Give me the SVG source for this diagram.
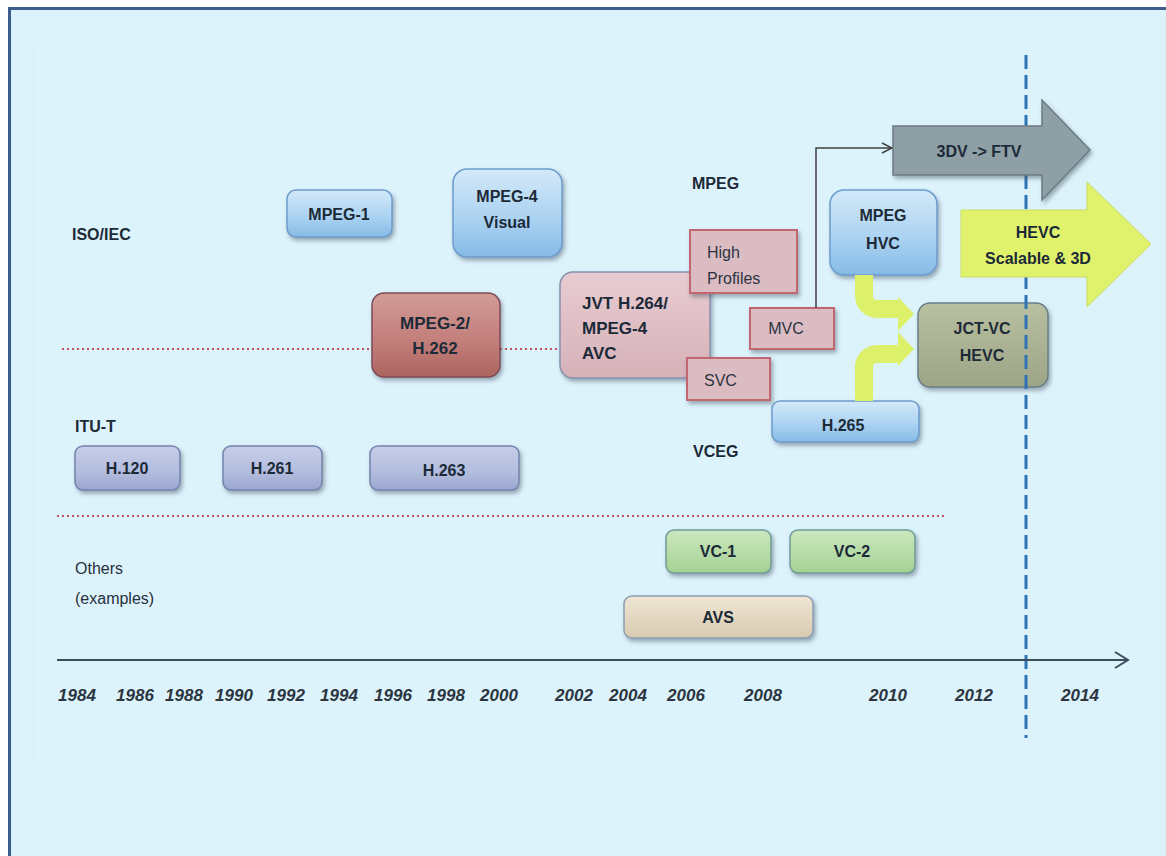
<svg xmlns="http://www.w3.org/2000/svg" width="1166" height="856" viewBox="0 0 1166 856">
  <defs>
    <linearGradient id="gBlue" x1="0" y1="0" x2="0" y2="1">
      <stop offset="0" stop-color="#d3e9f9"/>
      <stop offset="0.55" stop-color="#acd3f2"/>
      <stop offset="1" stop-color="#86bbe6"/>
    </linearGradient>
    <linearGradient id="gItu" x1="0" y1="0" x2="0" y2="1">
      <stop offset="0" stop-color="#c6cee8"/>
      <stop offset="0.6" stop-color="#b2bcdd"/>
      <stop offset="1" stop-color="#9aa6cf"/>
    </linearGradient>
    <linearGradient id="gMpeg2" x1="0" y1="0" x2="0" y2="1">
      <stop offset="0" stop-color="#d29b98"/>
      <stop offset="0.6" stop-color="#c27d79"/>
      <stop offset="1" stop-color="#ad645f"/>
    </linearGradient>
    <linearGradient id="gJvt" x1="0" y1="0" x2="0" y2="1">
      <stop offset="0" stop-color="#e8ccd1"/>
      <stop offset="1" stop-color="#d6b1b8"/>
    </linearGradient>
    <linearGradient id="gJct" x1="0" y1="0" x2="0" y2="1">
      <stop offset="0" stop-color="#b9c0a0"/>
      <stop offset="1" stop-color="#9ea587"/>
    </linearGradient>
    <linearGradient id="gVc" x1="0" y1="0" x2="0" y2="1">
      <stop offset="0" stop-color="#cbe8bf"/>
      <stop offset="1" stop-color="#a5d192"/>
    </linearGradient>
    <linearGradient id="gAvs" x1="0" y1="0" x2="0" y2="1">
      <stop offset="0" stop-color="#efe6d4"/>
      <stop offset="1" stop-color="#d8cab0"/>
    </linearGradient>
    <filter id="shadow" x="-20%" y="-20%" width="150%" height="160%">
      <feDropShadow dx="2" dy="3" stdDeviation="2" flood-color="#3a4a5a" flood-opacity="0.45"/>
    </filter>
    <marker id="openHead" viewBox="0 0 12 12" refX="11" refY="6" markerWidth="12" markerHeight="12" markerUnits="userSpaceOnUse" orient="auto">
      <path d="M1,1 L11,6 L1,11" fill="none" stroke="#3f3f3f" stroke-width="1.5"/>
    </marker>
  </defs>
  <style>
    .lbl { font-family: "Liberation Sans", Arial, sans-serif; font-weight: bold; font-size: 16px; fill: #1c2a38; }
    .reg { font-family: "Liberation Sans", Arial, sans-serif; font-size: 16px; fill: #26303c; }
    .box { font-family: "Liberation Sans", Arial, sans-serif; font-weight: bold; font-size: 16px; fill: #1c2a38; text-anchor: middle; }
    .boxL { font-family: "Liberation Sans", Arial, sans-serif; font-weight: bold; font-size: 17px; fill: #1c2a38; text-anchor: start; }
    .big { font-size: 17px; }
    .year { font-family: "Liberation Sans", Arial, sans-serif; font-weight: bold; font-style: italic; font-size: 17px; fill: #2b3540; text-anchor: middle; }
    .sub { font-family: "Liberation Sans", Arial, sans-serif; font-size: 16px; fill: #2a3440; }
    .subBox { fill: #dcbcc3; stroke: #c26670; stroke-width: 2; }
    .dots { stroke: #c0505a; stroke-width: 2; stroke-dasharray: 2 3; fill: none; }
  </style>

  <!-- page and frame -->
  <rect x="0" y="0" width="1166" height="856" fill="#ffffff"/>
  <rect x="9.5" y="8.5" width="1170" height="860" fill="#dbf2fb" stroke="#3c5d8c" stroke-width="3"/>
  <rect x="38" y="44" width="1114" height="715" fill="#ddf3fc" stroke="#e4f3f9" stroke-width="1"/>

  <!-- row labels -->
  <g id="labels">
    <text class="lbl" x="72" y="240">ISO/IEC</text>
    <text class="lbl" x="692" y="189">MPEG</text>
    <text class="lbl" x="75" y="432">ITU-T</text>
    <text class="lbl" x="693" y="457">VCEG</text>
    <text class="reg" x="75" y="574">Others</text>
    <text class="reg" x="75" y="604">(examples)</text>
  </g>

  <!-- row separators -->
  <g id="separators">
    <line class="dots" x1="62" y1="349" x2="372" y2="349"/>
    <line class="dots" x1="500" y1="349" x2="560" y2="349"/>
    <line class="dots" x1="57" y1="516" x2="945" y2="516"/>
  </g>

  <!-- ISO/IEC nodes -->
  <g id="mpeg1">
    <rect x="287" y="190" width="105" height="47" rx="9" fill="url(#gBlue)" stroke="#6c9ccb" stroke-width="1.5" filter="url(#shadow)"/>
    <text class="box" x="339" y="220">MPEG-1</text>
  </g>
  <g id="mpeg4visual">
    <rect x="453" y="169" width="109" height="88" rx="14" fill="url(#gBlue)" stroke="#6c9ccb" stroke-width="1.5" filter="url(#shadow)"/>
    <text class="box" x="507" y="202">MPEG-4</text>
    <text class="box" x="507" y="228">Visual</text>
  </g>
  <g id="mpeg2">
    <rect x="372" y="293" width="128" height="84" rx="12" fill="url(#gMpeg2)" stroke="#7f4a55" stroke-width="1.5" filter="url(#shadow)"/>
    <text class="box big" x="435" y="329">MPEG-2/</text>
    <text class="box big" x="435" y="354">H.262</text>
  </g>
  <g id="avc">
    <rect x="560" y="272" width="150" height="106" rx="13" fill="url(#gJvt)" stroke="#8890b0" stroke-width="1.5" filter="url(#shadow)"/>
    <text class="boxL" x="582" y="309">JVT H.264/</text>
    <text class="boxL" x="582" y="334">MPEG-4</text>
    <text class="boxL" x="582" y="359">AVC</text>
  </g>
  <g id="highprofiles">
    <rect class="subBox" x="690" y="230" width="107" height="63" filter="url(#shadow)"/>
    <text class="sub" x="707" y="258">High</text>
    <text class="sub" x="707" y="284">Profiles</text>
  </g>
  <g id="svc">
    <rect class="subBox" x="687" y="358" width="83" height="42" filter="url(#shadow)"/>
    <text class="sub" x="704" y="386">SVC</text>
  </g>
  <g id="mvc">
    <rect class="subBox" x="750" y="308" width="84" height="41" filter="url(#shadow)"/>
    <text class="sub" x="786" y="334" text-anchor="middle">MVC</text>
  </g>
  <g id="mpeghvc">
    <rect x="830" y="190" width="107" height="85" rx="14" fill="url(#gBlue)" stroke="#6c9ccb" stroke-width="1.5" filter="url(#shadow)"/>
    <text class="box" x="883" y="221">MPEG</text>
    <text class="box" x="883" y="249">HVC</text>
  </g>

  <!-- ITU-T nodes -->
  <g id="h120">
    <rect x="75" y="446" width="105" height="44" rx="8" fill="url(#gItu)" stroke="#7482ad" stroke-width="1.5" filter="url(#shadow)"/>
    <text class="box" x="127" y="474">H.120</text>
  </g>
  <g id="h261">
    <rect x="223" y="446" width="99" height="44" rx="8" fill="url(#gItu)" stroke="#7482ad" stroke-width="1.5" filter="url(#shadow)"/>
    <text class="box" x="272" y="474">H.261</text>
  </g>
  <g id="h263">
    <rect x="370" y="446" width="149" height="44" rx="8" fill="url(#gItu)" stroke="#7482ad" stroke-width="1.5" filter="url(#shadow)"/>
    <text class="box" x="444" y="476">H.263</text>
  </g>
  <g id="h265">
    <rect x="772" y="401" width="147" height="41" rx="8" fill="url(#gBlue)" stroke="#6c9ccb" stroke-width="1.5" filter="url(#shadow)"/>
    <text class="box" x="843" y="431">H.265</text>
  </g>

  <!-- other codecs -->
  <g id="vc1">
    <rect x="666" y="530" width="105" height="43" rx="8" fill="url(#gVc)" stroke="#6e9c98" stroke-width="1.5" filter="url(#shadow)"/>
    <text class="box" x="718" y="557">VC-1</text>
  </g>
  <g id="vc2">
    <rect x="790" y="530" width="125" height="43" rx="8" fill="url(#gVc)" stroke="#6e9c98" stroke-width="1.5" filter="url(#shadow)"/>
    <text class="box" x="852" y="557">VC-2</text>
  </g>
  <g id="avs">
    <rect x="624" y="596" width="189" height="42" rx="8" fill="url(#gAvs)" stroke="#8a9fb3" stroke-width="1.5" filter="url(#shadow)"/>
    <text class="box" x="718" y="623">AVS</text>
  </g>

  <!-- joint HEVC -->
  <g id="jctvc">
    <rect x="918" y="303" width="130" height="84" rx="12" fill="url(#gJct)" stroke="#6a7d88" stroke-width="1.5" filter="url(#shadow)"/>
    <text class="box" x="982" y="334">JCT-VC</text>
    <text class="box" x="982" y="361">HEVC</text>
  </g>

  <!-- current-year marker -->
  <line id="now" x1="1026" y1="55" x2="1026" y2="738" stroke="#2e74b5" stroke-width="3" stroke-dasharray="14 6"/>

  <!-- future work arrows -->
  <g id="ftv">
    <polygon points="893,126 1042,126 1042,100 1090,150 1042,200 1042,175 893,175" fill="#8e9fa5" stroke="#6c7c83" stroke-width="1.5" filter="url(#shadow)"/>
    <text class="box" x="979" y="157">3DV -&gt; FTV</text>
  </g>
  <g id="hevcext">
    <polygon points="961,210 1087,210 1087,182 1151,244 1087,307 1087,277 961,277" fill="#e0f26c" stroke="#cadb62" stroke-width="1"/>
    <text class="box" x="1038" y="238">HEVC</text>
    <text class="box" x="1038" y="264">Scalable &amp; 3D</text>
  </g>

  <!-- connectors -->
  <g id="connectors">
    <path d="M816,308 V148 H892" fill="none" stroke="#3f3f3f" stroke-width="1.5" marker-end="url(#openHead)"/>
    <!-- MPEG HVC into JCT-VC -->
    <path d="M855,275 V296 A22,22 0 0 0 877,318 H898 V331 L914,314 L898,297 V300 H877 A4,4 0 0 1 873,296 V275 Z" fill="#dcf06a"/>
    <!-- H.265 into JCT-VC -->
    <path d="M855,401 V367 A22,22 0 0 1 877,345 H898 V332 L914,349 L898,366 V363 H877 A4,4 0 0 0 873,367 V401 Z" fill="#dcf06a"/>
    <!-- time axis -->
    <line x1="57" y1="660" x2="1128" y2="660" stroke="#3d4d5c" stroke-width="2"/>
    <path d="M1115,652 L1128,660 L1115,668" fill="none" stroke="#3d4d5c" stroke-width="2"/>
  </g>

  <!-- years -->
  <g id="years">
    <text class="year" x="77" y="701">1984</text>
    <text class="year" x="135" y="701">1986</text>
    <text class="year" x="184" y="701">1988</text>
    <text class="year" x="234" y="701">1990</text>
    <text class="year" x="286" y="701">1992</text>
    <text class="year" x="339" y="701">1994</text>
    <text class="year" x="393" y="701">1996</text>
    <text class="year" x="446" y="701">1998</text>
    <text class="year" x="499" y="701">2000</text>
    <text class="year" x="574" y="701">2002</text>
    <text class="year" x="628" y="701">2004</text>
    <text class="year" x="686" y="701">2006</text>
    <text class="year" x="763" y="701">2008</text>
    <text class="year" x="888" y="701">2010</text>
    <text class="year" x="974" y="701">2012</text>
    <text class="year" x="1080" y="701">2014</text>
  </g>
</svg>
